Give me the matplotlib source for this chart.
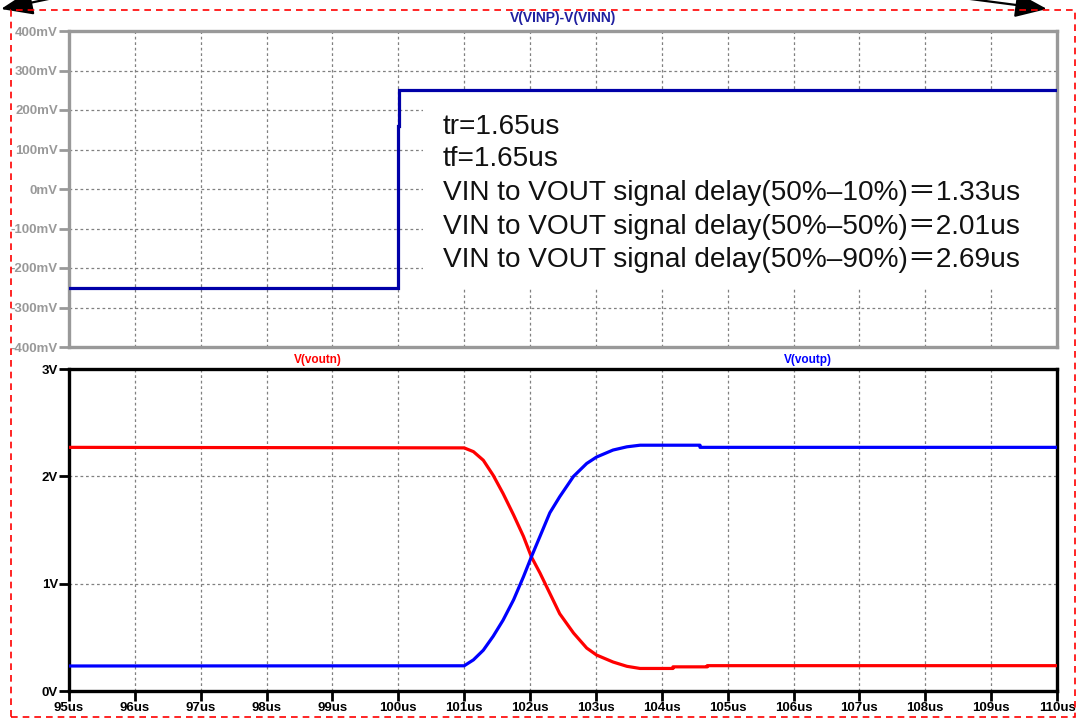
import matplotlib
matplotlib.use("Agg")
import matplotlib.pyplot as plt
from matplotlib.patches import Rectangle, FancyArrowPatch

# ---- data ----
# differential input step (us, mV)
t_in = [95.0, 100.0, 100.0, 100.015, 100.015, 110.0]
v_in = [-250, -250, 160, 160, 250, 250]

# output voutn (us, V)
t_voutn = [95.0, 101.0, 101.14, 101.29, 101.44, 101.59, 101.75, 101.90, 102.02,
           102.15, 102.30, 102.45, 102.66, 102.86, 103.01, 103.26, 103.47, 103.67,
           104.17, 104.17, 104.69, 104.69, 110.0]
v_voutn = [2.27, 2.265, 2.23, 2.15, 2.01, 1.84, 1.64, 1.44, 1.25,
           1.10, 0.91, 0.72, 0.54, 0.40, 0.335, 0.27, 0.23, 0.21,
           0.21, 0.225, 0.225, 0.236, 0.236]

# output voutp (us, V)
t_voutp = [95.0, 101.0, 101.14, 101.29, 101.44, 101.59, 101.75, 101.90, 102.02,
           102.15, 102.30, 102.45, 102.66, 102.86, 103.01, 103.26, 103.47, 103.67,
           104.58, 104.58, 110.0]
v_voutp = [0.233, 0.235, 0.29, 0.38, 0.51, 0.66, 0.85, 1.065, 1.25,
           1.44, 1.66, 1.81, 2.00, 2.12, 2.18, 2.245, 2.275, 2.29,
           2.29, 2.27, 2.27]

x_ticks = list(range(95, 111))
x_labels = [f"{t}us" for t in x_ticks]
top_yticks = [400, 300, 200, 100, 0, -100, -200, -300, -400]
top_ylabels = [f"{v}mV" for v in top_yticks]
bot_yticks = [0, 1, 2, 3]
bot_ylabels = ["0V", "1V", "2V", "3V"]

notes = [
    "tr=1.65us",
    "tf=1.65us",
    "VIN to VOUT signal delay(50%–10%)＝1.33us",
    "VIN to VOUT signal delay(50%–50%)＝2.01us",
    "VIN to VOUT signal delay(50%–90%)＝2.69us",
]
note_y = [157, 76, -11, -97, -180]

# ---- figure ----
W, H = 1076, 719
fig = plt.figure(figsize=(W / 100, H / 100), dpi=100)
fig.patch.set_facecolor("white")

def fx(px):
    return px / W

def fy(py):
    return 1 - py / H

left, right = 69, 1057
ax1 = fig.add_axes([fx(left), fy(347), fx(right - left), fy(31) - fy(347)])
ax2 = fig.add_axes([fx(left), fy(691), fx(right - left), fy(369) - fy(691)])

grid_kw = dict(color="#808080", linestyle=(0, (2.2, 2.2)), linewidth=0.9)
tick_font = dict(family="Liberation Sans", weight="bold", size=9.5)

# top panel
ax1.set_axisbelow(True)
ax1.plot(t_in, v_in, color="#0000a8", linewidth=2.3, zorder=3,
         solid_joinstyle="miter")
ax1.set_xlim(95, 110)
ax1.set_ylim(-400, 400)
ax1.set_xticks(x_ticks)
ax1.set_yticks(top_yticks)
ax1.set_yticklabels(top_ylabels, color="#999999", **tick_font)
ax1.tick_params(axis="x", length=0, labelbottom=False)
ax1.tick_params(axis="y", direction="out", length=7, width=2, color="#999999", pad=1)
ax1.grid(True, **grid_kw)
for s in ax1.spines.values():
    s.set_color("#999999")
    s.set_linewidth(2.4)

# annotation box covering part of the grid
ax1.add_patch(Rectangle((100.37, -250), 110 - 100.37, 500, facecolor="white",
                        edgecolor="none", zorder=1))
for txt, yv in zip(notes, note_y):
    ax1.text(100.68, yv, txt, fontsize=20.2, va="center", ha="left", color="#111111",
             family=["Liberation Sans", "Noto Sans CJK SC"], zorder=4)

fig.text(fx((left + right) / 2), fy(18), "V(VINP)-V(VINN)", color="#2020a0",
         ha="center", va="center", fontsize=10, weight="bold", family="Liberation Sans")

# bottom panel
ax2.set_axisbelow(True)
ax2.plot(t_voutn, v_voutn, color="#ff0000", linewidth=2.3, zorder=3)
ax2.plot(t_voutp, v_voutp, color="#0000ff", linewidth=2.3, zorder=3)
ax2.set_xlim(95, 110)
ax2.set_ylim(0, 3)
ax2.set_xticks(x_ticks)
ax2.set_xticklabels(x_labels, color="black", **tick_font)
ax2.set_yticks(bot_yticks)
ax2.set_yticklabels(bot_ylabels, color="black", **tick_font)
ax2.tick_params(axis="both", direction="out", length=7, width=2, color="black", pad=1)
ax2.grid(True, **grid_kw)
for s in ax2.spines.values():
    s.set_color("black")
    s.set_linewidth(2.4)

fig.text(fx(318), fy(360), "V(voutn)", color="#ff0000", ha="center", va="center",
         fontsize=8.5, weight="bold", family="Liberation Sans")
fig.text(fx(808), fy(360), "V(voutp)", color="#0000ff", ha="center", va="center",
         fontsize=8.5, weight="bold", family="Liberation Sans")

# dashed selection frame
fig.patches.append(Rectangle((fx(11), fy(717)), fx(1075 - 11), fy(10) - fy(717),
                             transform=fig.transFigure, fill=False, edgecolor="#ff0000",
                             linestyle=(0, (4, 3)), linewidth=1.2, zorder=10))

# corner arrows
fig.add_artist(FancyArrowPatch(
    (fx(58), fy(-3)), (fx(1), fy(9)), transform=fig.transFigure,
    arrowstyle="-|>,head_length=0.9,head_width=0.35", mutation_scale=22,
    color="black", linewidth=1.6, shrinkA=0, shrinkB=0))
fig.add_artist(FancyArrowPatch(
    (fx(955), fy(-3)), (fx(1047), fy(9)), transform=fig.transFigure,
    arrowstyle="-|>,head_length=0.9,head_width=0.35", mutation_scale=22,
    color="black", linewidth=1.6, shrinkA=0, shrinkB=0))

fig.savefig("out.png", dpi=100, facecolor="white")
